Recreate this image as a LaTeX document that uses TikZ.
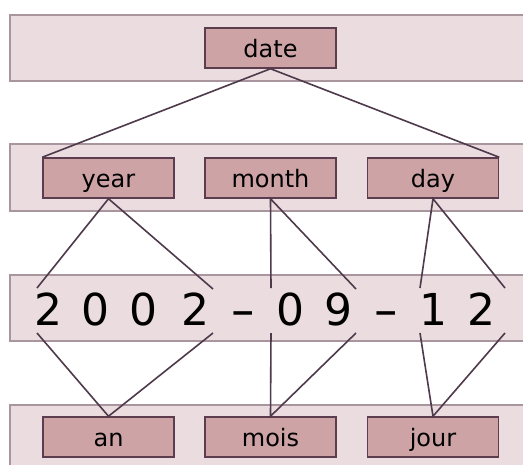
\documentclass[tikz,border=0pt]{standalone}
\usepackage{fontspec}
\setmainfont{DejaVu Sans}
\definecolor{bandfill}{HTML}{EADCDF}
\definecolor{bandline}{HTML}{A8959E}
\definecolor{boxfill}{HTML}{CDA3A6}
\definecolor{boxline}{HTML}{5B3D4F}
\definecolor{conn}{HTML}{4E3A4A}
\tikzset{
  band/.style={fill=bandfill, draw=bandline, line width=2pt},
  lbox/.style={draw=boxline, fill=boxfill, line width=1.5pt, minimum width=131pt, minimum height=40pt, inner sep=0pt, text height=20pt, text depth=2pt, font=\fontsize{24}{24}\selectfont},
  digit/.style={inner sep=0pt, text height=32pt, text depth=0pt, font=\fontsize{44}{44}\selectfont, text=black},
  conn/.style={draw=conn, line width=1.6pt}
}
\begin{document}
\begin{tikzpicture}[x=1pt,y=-1pt]
\useasboundingbox (0,0) rectangle (523,464);
\clip (0,0) rectangle (523,464);
\fill[white] (0,0) rectangle (523,464);
% bands
\draw[band] (10,15) rectangle (535,81);
\draw[band] (10,144) rectangle (535,211);
\draw[band] (10,275) rectangle (535,341);
\draw[band] (10,405) rectangle (535,475);
% boxes
\node[lbox] (date) at (270.5,48) {date};
\node[lbox] (year) at (108.5,178) {year};
\node[lbox] (month) at (270.5,178) {month};
\node[lbox] (day) at (433,178) {day};
\node[lbox] (an) at (108.5,437) {an};
\node[lbox] (mois) at (270.5,437) {mois};
\node[lbox] (jour) at (433,437) {jour};
% digits
\node[digit] (d1) at (48,309) {2};
\node[digit] (d2) at (95,309) {0};
\node[digit] (d3) at (143,309) {0};
\node[digit] (d4) at (195,309) {2};
\node[digit] (d5) at (243,309) {\scalebox{1.6}[1]{-}};
\node[digit] (d6) at (290,309) {0};
\node[digit] (d7) at (338,309) {9};
\node[digit] (d8) at (386,309) {\scalebox{1.6}[1]{-}};
\node[digit] (d9) at (433,309) {1};
\node[digit] (d10) at (481,309) {2};
% connector end points in the date band
\coordinate (t1) at (37,288);
\coordinate (t2) at (213,289);
\coordinate (t3) at (271,288);
\coordinate (t4) at (356,289);
\coordinate (t5) at (420,288);
\coordinate (t6) at (505,288);
\coordinate (b1) at (37,333);
\coordinate (b2) at (213,333);
\coordinate (b3) at (271,333);
\coordinate (b4) at (356,333);
\coordinate (b5) at (420,333);
\coordinate (b6) at (505,333);
% connectors
\draw[conn] (year.north west) -- (date.south) -- (day.north east);
\draw[conn] (t1) -- (year.south) -- (t2);
\draw[conn] (t3) -- (month.south) -- (t4);
\draw[conn] (t5) -- (day.south) -- (t6);
\draw[conn] (b1) -- (an.north) -- (b2);
\draw[conn] (b3) -- (mois.north) -- (b4);
\draw[conn] (b5) -- (jour.north) -- (b6);
\end{tikzpicture}
\end{document}
